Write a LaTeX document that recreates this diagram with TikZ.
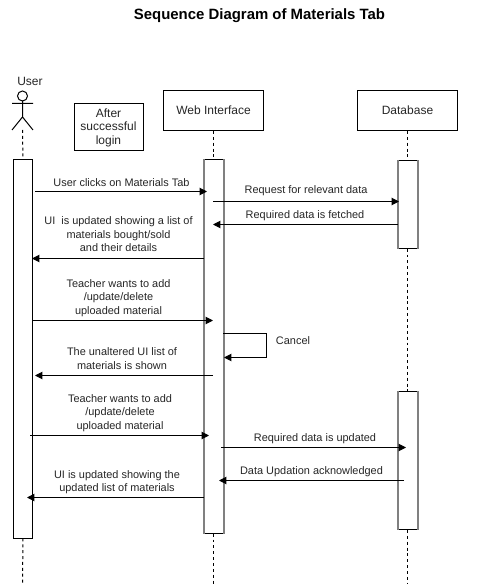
\documentclass[tikz,border=0pt]{standalone}
\usepackage{fontspec}
\setmainfont{Liberation Sans}
\usetikzlibrary{arrows.meta}
\definecolor{sidegray}{HTML}{808080}
\tikzset{
  px/.style={x=0.75pt,y=-0.75pt},
  box/.style={draw=black,line width=0.75pt,fill=white,inner sep=0pt,align=center,font=\fontsize{9}{10.1}\selectfont,text=black!85},
  msgtext/.style={inner sep=0pt,align=center,font=\fontsize{8.2}{10.1}\selectfont,text=black!85},
  msg/.style={draw=black,line width=0.75pt,-{Triangle[length=5.5pt,width=5.5pt]}},
  life/.style={draw=black,line width=0.75pt,dash pattern=on 2.2pt off 2.2pt},
  bar/.style={draw=black,line width=0.75pt,fill=white,inner sep=0pt,minimum width=14.25pt},
  side/.style={draw=sidegray,line width=1.5pt},
  actor/.style={draw=black,line width=0.75pt}
}
\begin{document}
\begin{tikzpicture}[px]
\useasboundingbox (0,0) rectangle (497,584);
\fill[white] (0,0) rectangle (497,584);
\node[inner sep=0pt,font=\bfseries\fontsize{11.2}{13}\selectfont] (title) at (259.5,16) {Sequence Diagram of Materials Tab};
\node[inner sep=0pt,font=\fontsize{9}{10}\selectfont,text=black!85] (user) at (30,81.5) {User};
% actor
\coordinate (aneck) at (22.5,101);
\coordinate (ahip) at (22.5,117);
\coordinate (afoot) at (22.5,130);
\draw[actor] (22.5,96) circle (5);
\draw[actor] (aneck) -- (ahip) (12,103.5) -- (33,103.5) (12,130) -- (ahip) -- (33,130);
% boxes
\node[box,minimum width=51.75pt,minimum height=35.25pt] (login) at (108.5,127.5) {After\\successful\\login};
\node[box,minimum width=75pt,minimum height=30pt] (web) at (213.5,110.5) {Web Interface};
\node[box,minimum width=75pt,minimum height=30pt] (db) at (407.5,110.5) {Database};
% activation bars
\node[bar,minimum height=283.5pt] (au) at (23,349) {};
\node[bar,minimum height=280pt] (aw) at (213.5,346.5) {};
\node[bar,minimum height=65.5pt] (ad1) at (407.5,204.5) {};
\node[bar,minimum height=103.5pt] (ad2) at (407.5,460.5) {};
\draw[side] (aw.north west) -- (aw.south west) (aw.north east) -- (aw.south east);
\draw[side] (ad1.north west) -- (ad1.south west) (ad1.north east) -- (ad1.south east);
\draw[side] (ad2.north west) -- (ad2.south west) (ad2.north east) -- (ad2.south east);
% lifelines
\coordinate (uend) at (22.5,584);
\coordinate (wend) at (213.5,584);
\coordinate (dend) at (407.5,584);
\draw[life] (afoot) -- (au.north);
\draw[life] (au.south) -- (uend);
\draw[life] (web.south) -- (aw.north);
\draw[life] (aw.south) -- (wend);
\draw[life] (db.south) -- (ad1.north);
\draw[life] (ad1.south) -- (ad2.north);
\draw[life] (ad2.south) -- (dend);
% message ends
\coordinate (m1a) at (35,191.5);   \coordinate (m1b) at (207,191.5);
\coordinate (m2a) at (213,201.5);  \coordinate (m2b) at (399,201.5);
\coordinate (m3a) at (398,224.5);  \coordinate (m3b) at (213,224.5);
\coordinate (m4a) at (204,258.5);  \coordinate (m4b) at (32,258.5);
\coordinate (m5a) at (32,320.5);   \coordinate (m5b) at (213,320.5);
\coordinate (m6a) at (223,333.5);  \coordinate (m6b) at (224,357.5);
\coordinate (m7a) at (213,375.5);  \coordinate (m7b) at (35,375.5);
\coordinate (m8a) at (30,435.5);   \coordinate (m8b) at (209,435.5);
\coordinate (m9a) at (221,447.5);  \coordinate (m9b) at (406,447.5);
\coordinate (m10a) at (404,480.5); \coordinate (m10b) at (219,480.5);
\coordinate (m11a) at (204,497.5); \coordinate (m11b) at (27,497.5);
\draw[msg] (m1a) -- (m1b);
\draw[msg] (m2a) -- (m2b);
\draw[msg] (m3a) -- (m3b);
\draw[msg] (m4a) -- (m4b);
\draw[msg] (m5a) -- (m5b);
\draw[msg] (m6a) -- (266,333.5) -- (266,357.5) -- (m6b);
\draw[msg] (m7a) -- (m7b);
\draw[msg] (m8a) -- (m8b);
\draw[msg] (m9a) -- (m9b);
\draw[msg] (m10a) -- (m10b);
\draw[msg] (m11a) -- (m11b);
% labels
\node[msgtext] (t1) at (121.5,182.5) {User clicks on Materials Tab};
\node[msgtext] (t2) at (306,190.5) {Request for relevant data};
\node[msgtext] (t3) at (305,215.5) {Required data is fetched};
\node[msgtext] (t4) at (118.5,234.5) {UI\ \ is updated showing a list of\\materials bought/sold\\and their details};
\node[msgtext] (t5) at (118.5,298) {Teacher wants to add\\/update/delete\\uploaded material};
\node[msgtext] (t6) at (293,340.5) {Cancel};
\node[msgtext] (t7) at (122,358.5) {The unaltered UI list of\\materials is shown};
\node[msgtext] (t8) at (120,413) {Teacher wants to add\\/update/delete\\uploaded material};
\node[msgtext] (t9) at (315,438.5) {Required data is updated};
\node[msgtext] (t10) at (311.5,471.5) {Data Updation acknowledged};
\node[msgtext] (t11) at (117,482) {UI is updated showing the\\updated list of materials};
\end{tikzpicture}
\end{document}
